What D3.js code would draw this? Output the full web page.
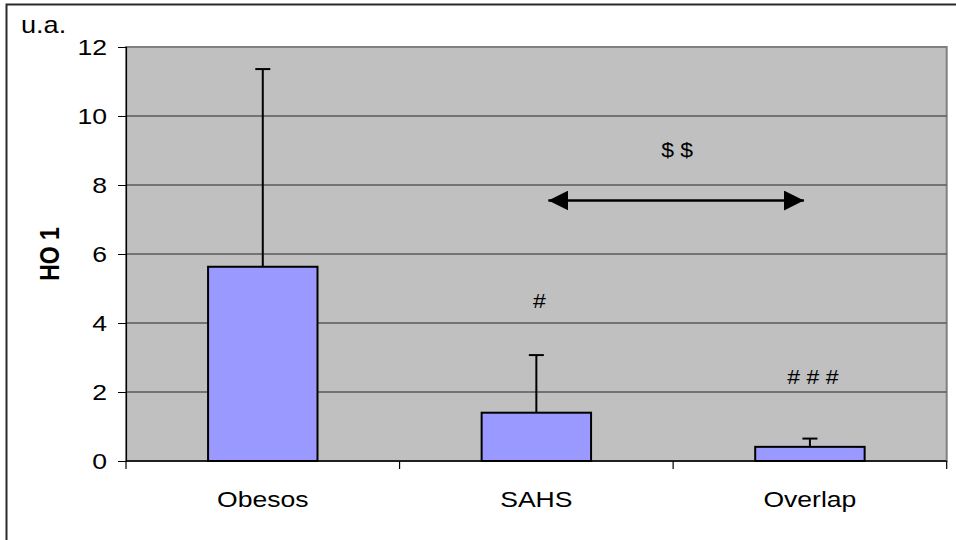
<!DOCTYPE html>
<html>
<head>
<meta charset="utf-8">
<script src="https://cdn.jsdelivr.net/npm/d3@7"></script>
<style>
  html, body { margin: 0; padding: 0; background: #fff; }
  svg { display: block; font-family: Arial, "Liberation Sans", sans-serif; }
</style>
</head>
<body>
<svg id="chart" width="956" height="540"></svg>
<script>
// HO 1 levels by group (mean + SD, upper error bar only)
const categories = ["Obesos", "SAHS", "Overlap"];
const means = [5.63, 1.40, 0.41];
const sds = [5.73, 1.67, 0.24];
const yTicks = [0, 2, 4, 6, 8, 10, 12];
const yLabel = "HO 1";
const unitLabel = "u.a.";
// significance marks: text placed above a category at a given value
const marks = [
  { cat: "SAHS", value: 4.62, text: "#" },
  { cat: "Overlap", value: 2.42, text: "# # #" },
  { cat: "SAHS", value: 9.0, text: "$ $" }
];
// comparison arrow between SAHS and Overlap
const arrow = { from: "SAHS", to: "Overlap", value: 7.55 };

// text in this chart is drawn slightly widened horizontally
const SX = 1.18;
function widen(sel) {
  sel.each(function () {
    const t = d3.select(this);
    const x0 = +t.attr("x") || 0;
    const y0 = +t.attr("y") || 0;
    t.attr("x", 0).attr("y", 0)
      .attr("transform", `translate(${x0},${y0}) scale(${SX},1)`);
  });
}

const svg = d3.select("#chart");
const plot = { left: 126, top: 47, right: 946.7, bottom: 461 };

// outer chart frame
svg.append("rect")
  .attr("x", 6.5).attr("y", 4.5)
  .attr("width", 960).attr("height", 560)
  .attr("fill", "#fff").attr("stroke", "#2a2a2a").attr("stroke-width", 2);

const x = d3.scaleBand().domain(categories)
  .range([plot.left, plot.right]).paddingInner(0).paddingOuter(0);
const y = d3.scaleLinear().domain([0, 12]).range([plot.bottom, plot.top]);

// plot area
svg.append("rect")
  .attr("x", plot.left).attr("y", plot.top)
  .attr("width", plot.right - plot.left).attr("height", plot.bottom - plot.top)
  .attr("fill", "#c0c0c0").attr("stroke", "#808080").attr("stroke-width", 2);

// gridlines
svg.append("g").selectAll("line")
  .data(yTicks.filter(t => t > 0 && t < 12))
  .join("line")
  .attr("x1", plot.left).attr("x2", plot.right)
  .attr("y1", d => y(d)).attr("y2", d => y(d))
  .attr("stroke", "#5a5a5a").attr("stroke-width", 1.5);

// y axis
const yAxis = svg.append("g")
  .attr("transform", `translate(${plot.left},0)`)
  .call(d3.axisLeft(y).tickValues(yTicks).tickSize(8).tickPadding(11).tickFormat(d3.format("d")));
yAxis.select(".domain").attr("stroke", "#000").attr("stroke-width", 1.2);
yAxis.selectAll(".tick line").attr("stroke", "#000");
yAxis.selectAll("text")
  .attr("font-size", 22.5).attr("fill", "#000").attr("dy", null)
  .attr("dominant-baseline", "central")
  .attr("font-family", "Arial, 'Liberation Sans', sans-serif")
  .call(widen);

// x axis: baseline + ticks at category boundaries
const xg = svg.append("g");
xg.append("line")
  .attr("x1", plot.left).attr("x2", plot.right)
  .attr("y1", plot.bottom).attr("y2", plot.bottom)
  .attr("stroke", "#000").attr("stroke-width", 1.5);
const bounds = categories.map(c => x(c)).concat([x(categories[categories.length - 1]) + x.bandwidth()]);
xg.selectAll("line.tk").data(bounds).join("line").attr("class", "tk")
  .attr("x1", d => d).attr("x2", d => d)
  .attr("y1", plot.bottom).attr("y2", plot.bottom + 8)
  .attr("stroke", "#000").attr("stroke-width", 1.2);
xg.selectAll("text").data(categories).join("text")
  .attr("x", d => x(d) + x.bandwidth() / 2)
  .attr("y", 507)
  .attr("text-anchor", "middle")
  .attr("font-size", 22.5)
  .text(d => d)
  .call(widen);

// bars
const barW = x.bandwidth() * 0.4;
const cx = c => x(c) + x.bandwidth() / 2;
svg.append("g").selectAll("rect")
  .data(categories)
  .join("rect")
  .attr("x", (d) => cx(d) - barW / 2)
  .attr("y", (d, i) => y(means[i]))
  .attr("width", barW)
  .attr("height", (d, i) => y(0) - y(means[i]))
  .attr("fill", "#9999ff").attr("stroke", "#000").attr("stroke-width", 2);

// upper error bars
const eb = svg.append("g").attr("stroke", "#000").attr("stroke-width", 2);
categories.forEach((c, i) => {
  const top = y(means[i] + sds[i]);
  eb.append("line").attr("x1", cx(c)).attr("x2", cx(c))
    .attr("y1", y(means[i])).attr("y2", top);
  eb.append("line").attr("x1", cx(c) - 7.5).attr("x2", cx(c) + 7.5)
    .attr("y1", top).attr("y2", top);
});

// significance marks ("$ $" sits midway between SAHS and Overlap, left of centre)
const markX = d => d.text.startsWith("$")
  ? (cx(arrow.from) + cx(arrow.to)) / 2 + 4
  : cx(d.cat) + 3;
svg.append("g").selectAll("text")
  .data(marks)
  .join("text")
  .attr("x", markX)
  .attr("y", d => y(d.value))
  .attr("text-anchor", "middle")
  .attr("dominant-baseline", "central")
  .attr("font-size", 19.5)
  .text(d => d.text)
  .call(widen);

// double-headed arrow
const defs = svg.append("defs");
["start", "end"].forEach(k => {
  defs.append("marker")
    .attr("id", "ah-" + k)
    .attr("viewBox", "0 0 10 10")
    .attr("refX", k === "end" ? 10 : 0).attr("refY", 5)
    .attr("markerWidth", 20).attr("markerHeight", 20)
    .attr("markerUnits", "userSpaceOnUse")
    .attr("orient", "auto")
    .append("path")
    .attr("d", k === "end" ? "M0,0L10,5L0,10Z" : "M10,0L0,5L10,10Z")
    .attr("fill", "#000");
});
svg.append("line")
  .attr("x1", cx(arrow.from) + 12).attr("x2", cx(arrow.to) - 6)
  .attr("y1", y(arrow.value)).attr("y2", y(arrow.value))
  .attr("stroke", "#000").attr("stroke-width", 2.5)
  .attr("marker-start", "url(#ah-start)")
  .attr("marker-end", "url(#ah-end)");

// axis titles
svg.append("text")
  .attr("transform", `translate(59,${(plot.top + plot.bottom) / 2}) rotate(-90) scale(1,${SX})`)
  .attr("text-anchor", "middle")
  .attr("font-size", 23).attr("font-weight", "bold")
  .text(yLabel);
svg.append("text")
  .attr("x", 21).attr("y", 33)
  .attr("font-size", 23)
  .text(unitLabel)
  .call(widen);
</script>
</body>
</html>
